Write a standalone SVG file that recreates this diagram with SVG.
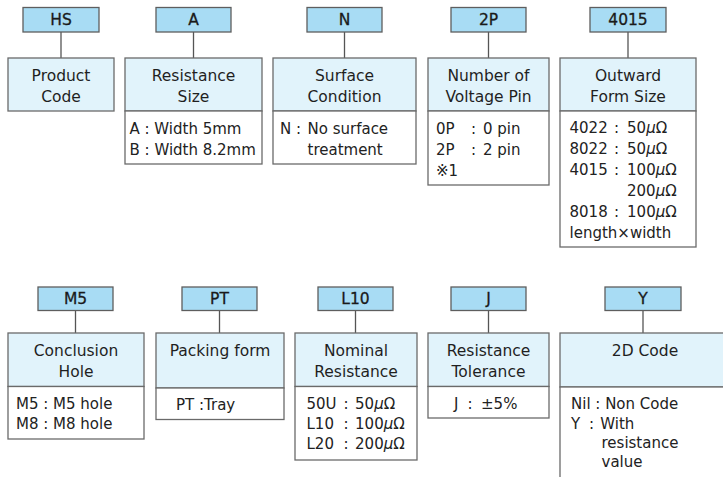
<svg xmlns="http://www.w3.org/2000/svg" width="723" height="477" viewBox="0 0 723 477">
<style>
  .code{fill:#a8dcf4;stroke:#5e5e5e;stroke-width:1.3}
  .head{fill:#e1f3fb;stroke:#6a6a6a;stroke-width:1.3}
  .body{fill:#ffffff;stroke:#6a6a6a;stroke-width:1.3}
  .ct{font-family:"DejaVu Sans","Liberation Sans",sans-serif;font-size:15.5px;fill:#1a1a1a;stroke:#1a1a1a;stroke-width:0.3;text-anchor:middle}
  .ht{font-family:"DejaVu Sans","Liberation Sans",sans-serif;font-size:15.5px;fill:#1f1f1f;text-anchor:middle}
  .bt{font-family:"DejaVu Sans","Liberation Sans",sans-serif;font-size:15px;fill:#222222}
  .mu{font-style:italic}
  .conn line{stroke:#555;stroke-width:1.3}
</style>
<rect width="723" height="477" fill="#ffffff"/>
<g class="conn">
  <line x1="61" y1="32" x2="61" y2="58"/>
  <line x1="193.5" y1="32" x2="193.5" y2="58"/>
  <line x1="344.5" y1="32" x2="344.5" y2="58"/>
  <line x1="488.5" y1="32" x2="488.5" y2="58"/>
  <line x1="628" y1="32" x2="628" y2="58"/>
  <line x1="75.5" y1="310.5" x2="75.5" y2="333"/>
  <line x1="219.5" y1="310.5" x2="219.5" y2="333"/>
  <line x1="355.5" y1="310.5" x2="355.5" y2="333"/>
  <line x1="488.5" y1="310.5" x2="488.5" y2="333"/>
  <line x1="643" y1="310.5" x2="643" y2="333"/>
</g>
<g id="hs">
  <rect class="code" x="23" y="7.5" width="76" height="24.5"/>
  <text class="ct" x="61" y="25.4">HS</text>
  <rect class="head" x="8" y="58" width="106" height="53"/>
  <text class="ht" x="61" y="80.7">Product</text>
  <text class="ht" x="61" y="101.7">Code</text>
</g>
<g id="a">
  <rect class="code" x="156" y="7.5" width="75" height="24.5"/>
  <text class="ct" x="193.5" y="25.4">A</text>
  <rect class="head" x="125" y="58" width="137" height="53"/>
  <text class="ht" x="193.5" y="80.7">Resistance</text>
  <text class="ht" x="193.5" y="101.7">Size</text>
  <rect class="body" x="125" y="111" width="137" height="53"/>
  <text class="bt" x="129.5" y="134">A : Width 5mm</text>
  <text class="bt" x="129.5" y="155">B : Width 8.2mm</text>
</g>
<g id="n">
  <rect class="code" x="307" y="7.5" width="75" height="24.5"/>
  <text class="ct" x="344.5" y="25.4">N</text>
  <rect class="head" x="273" y="58" width="143" height="53"/>
  <text class="ht" x="344.5" y="80.7">Surface</text>
  <text class="ht" x="344.5" y="101.7">Condition</text>
  <rect class="body" x="273" y="111" width="143" height="53"/>
  <text class="bt" x="280" y="134">N : <tspan dx="1.7">No surface</tspan></text>
  <text class="bt" x="307.5" y="155">treatment</text>
</g>
<g id="p2">
  <rect class="code" x="451" y="7.5" width="75" height="24.5"/>
  <text class="ct" x="488.5" y="25.4">2P</text>
  <rect class="head" x="428" y="58" width="121" height="53"/>
  <text class="ht" x="488.5" y="80.7">Number of</text>
  <text class="ht" x="488.5" y="101.7">Voltage Pin</text>
  <rect class="body" x="428" y="111" width="121" height="74"/>
  <text class="bt" x="436" y="134">0P <tspan dx="11.6">: </tspan><tspan dx="2.2">0 pin</tspan></text>
  <text class="bt" x="436" y="155">2P <tspan dx="11.6">: </tspan><tspan dx="2.2">2 pin</tspan></text>
  <text class="bt" x="436" y="176">※1</text>
</g>
<g id="s4015">
  <rect class="code" x="590" y="7.5" width="76" height="24.5"/>
  <text class="ct" x="628" y="25.4">4015</text>
  <rect class="head" x="560" y="58" width="136" height="53"/>
  <text class="ht" x="628" y="80.7">Outward</text>
  <text class="ht" x="628" y="101.7">Form Size</text>
  <rect class="body" x="560" y="111" width="136" height="136"/>
  <text class="bt" x="569.5" y="133">4022 <tspan dx="1.6">: </tspan><tspan dx="3.2">50<tspan class="mu">μ</tspan>Ω</tspan></text>
  <text class="bt" x="569.5" y="154">8022 <tspan dx="1.6">: </tspan><tspan dx="3.2">50<tspan class="mu">μ</tspan>Ω</tspan></text>
  <text class="bt" x="569.5" y="175">4015 <tspan dx="1.6">: </tspan><tspan dx="3.2">100<tspan class="mu">μ</tspan>Ω</tspan></text>
  <text class="bt" x="627" y="196">200<tspan class="mu">μ</tspan>Ω</text>
  <text class="bt" x="569.5" y="217">8018 <tspan dx="1.6">: </tspan><tspan dx="3.2">100<tspan class="mu">μ</tspan>Ω</tspan></text>
  <text class="bt" x="569.5" y="238">length×width</text>
</g>
<g id="m5">
  <rect class="code" x="38" y="287" width="75" height="23.5"/>
  <text class="ct" x="75.5" y="304.3">M5</text>
  <rect class="head" x="8" y="333" width="136" height="53.5"/>
  <text class="ht" x="76" y="356.3">Conclusion</text>
  <text class="ht" x="76" y="376.7">Hole</text>
  <rect class="body" x="8" y="386.5" width="136" height="52.5"/>
  <text class="bt" x="16" y="409.3">M5 : M5 hole</text>
  <text class="bt" x="16" y="429">M8 : M8 hole</text>
</g>
<g id="pt">
  <rect class="code" x="182" y="287" width="75" height="23.5"/>
  <text class="ct" x="219.5" y="304.3">PT</text>
  <rect class="head" x="156" y="333" width="128" height="55"/>
  <text class="ht" x="220" y="356.3">Packing form</text>
  <rect class="body" x="156" y="388" width="128" height="31.5"/>
  <text class="bt" x="176" y="410">PT :Tray</text>
</g>
<g id="l10">
  <rect class="code" x="318" y="287" width="75" height="23.5"/>
  <text class="ct" x="355.5" y="304.3">L10</text>
  <rect class="head" x="295" y="333" width="122" height="53.5"/>
  <text class="ht" x="356" y="356.3">Nominal</text>
  <text class="ht" x="356" y="376.7">Resistance</text>
  <rect class="body" x="295" y="386.5" width="122" height="73.5"/>
  <text class="bt" x="306.5" y="409.3">50U <tspan dx="2.2">: </tspan><tspan dx="1.7">50<tspan class="mu">μ</tspan>Ω</tspan></text>
  <text class="bt" x="306.5" y="429.3">L10 <tspan dx="4.8">: </tspan><tspan dx="1.7">100<tspan class="mu">μ</tspan>Ω</tspan></text>
  <text class="bt" x="306.5" y="449.3">L20 <tspan dx="4.8">: </tspan><tspan dx="1.7">200<tspan class="mu">μ</tspan>Ω</tspan></text>
</g>
<g id="j">
  <rect class="code" x="451" y="287" width="75" height="23.5"/>
  <text class="ct" x="488.5" y="304.3">J</text>
  <rect class="head" x="428" y="333" width="121" height="53.5"/>
  <text class="ht" x="488.5" y="356.3">Resistance</text>
  <text class="ht" x="488.5" y="376.7">Tolerance</text>
  <rect class="body" x="428" y="386.5" width="121" height="31.5"/>
  <text class="bt" x="454" y="409.3">J <tspan dx="4.3">: </tspan><tspan dx="3.7">±5%</tspan></text>
</g>
<g id="y">
  <rect class="code" x="605" y="287" width="76" height="23.5"/>
  <text class="ct" x="643" y="304.3">Y</text>
  <rect class="head" x="560" y="333" width="180" height="54"/>
  <text class="ht" x="645" y="356.3">2D Code</text>
  <rect class="body" x="560" y="387" width="180" height="110"/>
  <text class="bt" x="571" y="409.3">Nil : Non Code</text>
  <text class="bt" x="571" y="428.5">Y <tspan dx="4">: </tspan><tspan dx="1.5">With</tspan></text>
  <text class="bt" x="601.5" y="447.8">resistance</text>
  <text class="bt" x="601.5" y="467">value</text>
</g>
</svg>
